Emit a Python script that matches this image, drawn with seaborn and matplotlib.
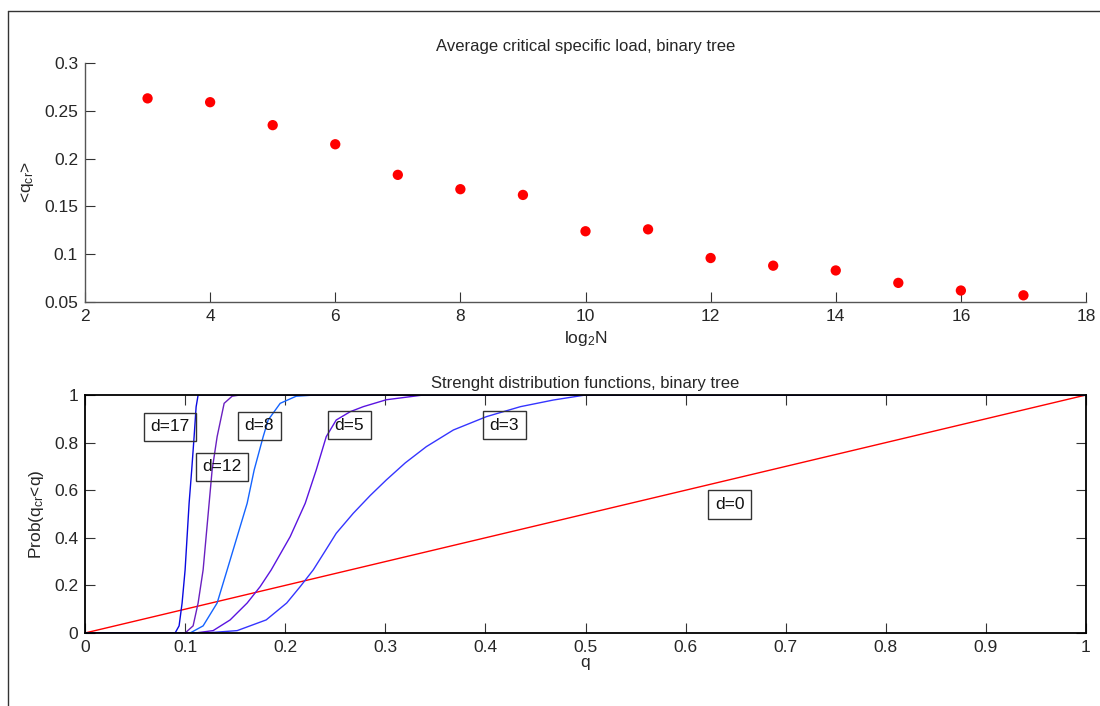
import numpy as np
import pandas as pd
import matplotlib
matplotlib.use("Agg")
import matplotlib.pyplot as plt
from matplotlib.lines import Line2D
import seaborn as sns

# ---------------- data ----------------
log2N = [3, 4, 5, 6, 7, 8, 9, 10, 11, 12, 13, 14, 15, 16, 17]
q_cr_mean = [0.263, 0.259, 0.235, 0.215, 0.183, 0.168, 0.162, 0.124, 0.126,
             0.096, 0.088, 0.083, 0.070, 0.062, 0.057]

q_d17 = [0, 0.090, 0.094, 0.097, 0.100, 0.102, 0.104, 0.1066, 0.109, 0.111, 0.113, 1]
p_d17 = [0, 0, 0.03, 0.126, 0.265, 0.405, 0.545, 0.685, 0.825, 0.95, 1, 1]

q_d12 = [0, 0.100, 0.108, 0.113, 0.118, 0.121, 0.124, 0.127, 0.132, 0.139, 0.147, 0.155, 1]
p_d12 = [0, 0, 0.03, 0.126, 0.265, 0.405, 0.545, 0.685, 0.825, 0.965, 0.995, 1, 1]

q_d8 = [0, 0.105, 0.118, 0.132, 0.142, 0.152, 0.162, 0.169, 0.178, 0.183, 0.195, 0.211, 0.23, 1]
p_d8 = [0, 0, 0.03, 0.126, 0.265, 0.405, 0.545, 0.685, 0.825, 0.895, 0.965, 0.995, 1, 1]

q_d5 = [0, 0.11, 0.128, 0.145, 0.162, 0.175, 0.186, 0.205, 0.220, 0.231, 0.241, 0.251,
        0.265, 0.278, 0.301, 0.338, 1]
p_d5 = [0, 0, 0.01, 0.055, 0.126, 0.195, 0.265, 0.405, 0.545, 0.685, 0.825, 0.895,
        0.93, 0.951, 0.98, 1, 1]

q_d3 = [0, 0.12, 0.152, 0.181, 0.2015, 0.215, 0.228, 0.240, 0.251, 0.268, 0.285, 0.301,
        0.320, 0.341, 0.368, 0.401, 0.435, 0.468, 0.5, 1]
p_d3 = [0, 0, 0.01, 0.055, 0.126, 0.195, 0.265, 0.345, 0.419, 0.503, 0.578, 0.643,
        0.715, 0.783, 0.853, 0.909, 0.951, 0.979, 1, 1]

q_d0 = [0, 1]
p_d0 = [0, 1]

curve_names = ["d=0", "d=3", "d=5", "d=8", "d=12", "d=17"]
curve_colors = ["#ff0000", "#3535ff", "#5a14e0", "#1464ff", "#6a20c0", "#0a0ae0"]
label_q = [0.644, 0.419, 0.264, 0.174, 0.137, 0.085]
label_p = [0.54, 0.873, 0.873, 0.870, 0.699, 0.867]

x1_ticks = [2, 4, 6, 8, 10, 12, 14, 16, 18]
y1_ticks = [0.05, 0.1, 0.15, 0.2, 0.25, 0.3]
x2_ticks = [0, 0.1, 0.2, 0.3, 0.4, 0.5, 0.6, 0.7, 0.8, 0.9, 1]
y2_ticks = [0, 0.2, 0.4, 0.6, 0.8, 1]

# ---------------- style ----------------
sns.set_style("ticks")
plt.rcParams["font.family"] = ["Liberation Sans", "DejaVu Sans"]
plt.rcParams["mathtext.fontset"] = "custom"
plt.rcParams["mathtext.rm"] = "Liberation Sans"
plt.rcParams["mathtext.it"] = "Liberation Sans"

W, H = 1100, 706
fig = plt.figure(figsize=(W / 100, H / 100), dpi=100)
fig.patch.set_facecolor("white")

def fx(px):
    return px / W

def fy(py):
    return 1 - py / H

# outer frame
fig.add_artist(Line2D([fx(8), fx(8)], [fy(11), 0], color="#333333", lw=1.0))
fig.add_artist(Line2D([fx(8), 1], [fy(11), fy(11)], color="#333333", lw=1.0))

fs = 12.5
tfs = 12

def fmt(v):
    return f"{v:g}"

# ---------------- top axes ----------------
ax1 = fig.add_axes([fx(85), fy(302), fx(1086) - fx(85), fy(63) - fy(302)])
df1 = pd.DataFrame({"log2N": log2N, "q": q_cr_mean})
sns.scatterplot(data=df1, x="log2N", y="q", ax=ax1, color="#ff0000", s=55,
                edgecolor="none", linewidth=0, zorder=3)
ax1.set_xlim(2, 18)
ax1.set_ylim(0.05, 0.3)
ax1.set_xticks(x1_ticks)
ax1.set_xticklabels([fmt(v) for v in x1_ticks])
ax1.set_yticks(y1_ticks)
ax1.set_yticklabels([fmt(v) for v in y1_ticks])
for s in ["top", "right"]:
    ax1.spines[s].set_visible(False)
for s in ["left", "bottom"]:
    ax1.spines[s].set_color("#555555")
    ax1.spines[s].set_linewidth(1.0)
ax1.tick_params(direction="in", length=7, width=0.8, color="#333333",
                labelsize=fs, pad=5)
ax1.set_xlabel(r"log$_2$N", fontsize=fs, labelpad=4)
ax1.set_ylabel(r"<q$_{cr}$>", fontsize=fs, labelpad=6)
ax1.set_title("Average critical specific load, binary tree", fontsize=tfs, pad=9)

# ---------------- bottom axes ----------------
ax2 = fig.add_axes([fx(85), fy(633), fx(1086) - fx(85), fy(395) - fy(633)])
qs = [q_d0, q_d3, q_d5, q_d8, q_d12, q_d17]
ps = [p_d0, p_d3, p_d5, p_d8, p_d12, p_d17]
rows = []
for name, qq, pp in zip(curve_names, qs, ps):
    for a, b in zip(qq, pp):
        rows.append({"curve": name, "q": a, "p": b})
df2 = pd.DataFrame(rows)
sns.lineplot(data=df2, x="q", y="p", hue="curve", hue_order=curve_names,
             palette=dict(zip(curve_names, curve_colors)), sort=False,
             estimator=None, units="curve", lw=1.0, ax=ax2, legend=False)
for name, lq, lp in zip(curve_names, label_q, label_p):
    ax2.text(lq, lp, name, fontsize=fs, ha="center", va="center",
             color="#111111", zorder=5,
             bbox=dict(boxstyle="square,pad=0.38", facecolor="none",
                       edgecolor="#333333", linewidth=1.0))
ax2.set_xlim(0, 1)
ax2.set_ylim(0, 1)
ax2.set_xticks(x2_ticks)
ax2.set_xticklabels([fmt(v) for v in x2_ticks])
ax2.set_yticks(y2_ticks)
ax2.set_yticklabels([fmt(v) for v in y2_ticks])
for s in ["top", "right", "left", "bottom"]:
    ax2.spines[s].set_visible(True)
    ax2.spines[s].set_color("black")
    ax2.spines[s].set_linewidth(1.3)
ax2.tick_params(direction="in", length=7, width=0.8, color="#333333",
                labelsize=fs, pad=5, top=True, right=True)
ax2.set_xlabel("q", fontsize=fs, labelpad=0)
ax2.set_ylabel(r"Prob(q$_{cr}$<q)", fontsize=fs, labelpad=6)
ax2.set_title("Strenght distribution functions, binary tree", fontsize=tfs, pad=5)

fig.savefig("out.png", dpi=100, facecolor="white")
